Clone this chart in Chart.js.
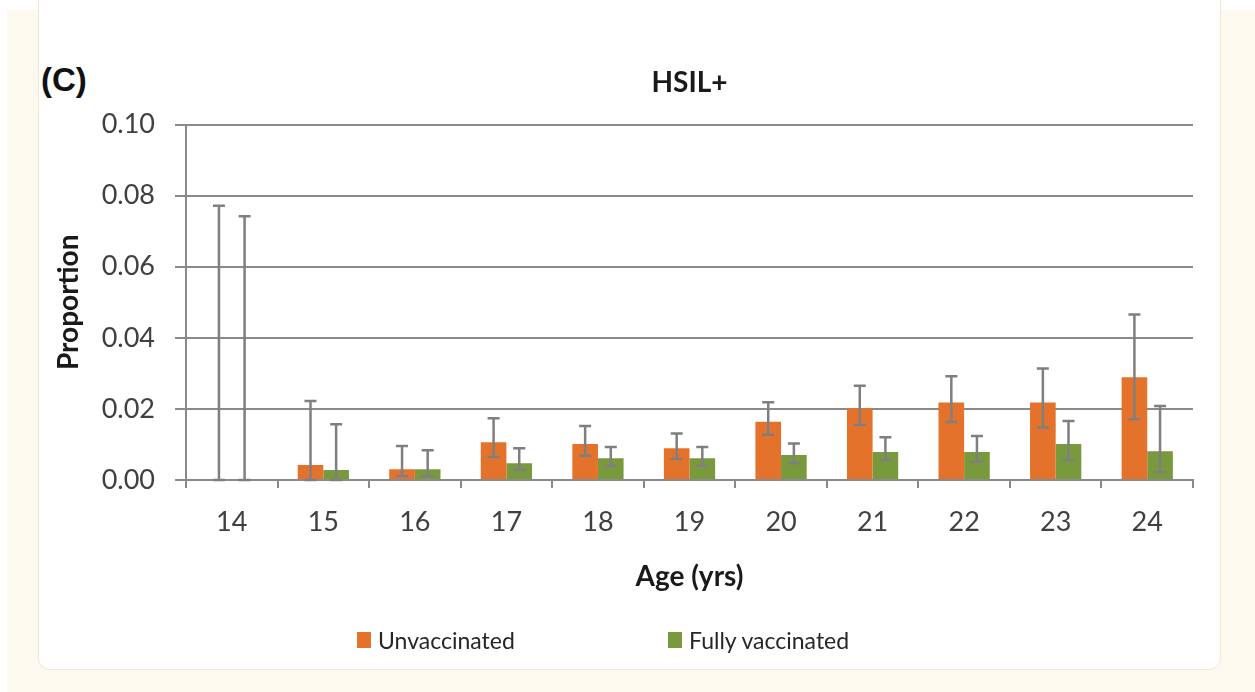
<!DOCTYPE html>
<html>
<head>
<meta charset="utf-8">
<script src="https://cdn.jsdelivr.net/npm/chart.js@4.4.1/dist/chart.umd.min.js"></script>
<style>
  html, body { margin: 0; padding: 0; background: #fff; }
  #page { position: relative; width: 1255px; height: 692px; overflow: hidden; }
  #cream { position: absolute; left: 7px; top: 10px; width: 1248px; height: 682px; background: #fdf9ee; }
  #card { position: absolute; left: 38px; top: -20px; width: 1181px; height: 688px; background: #fff;
          border: 1px solid #f3e6d6; border-radius: 12px; }
  #panel { position: absolute; left: 41px; top: 61px; font: bold 33px "Liberation Sans", Arial, sans-serif; color: #111; }
  #wrap { position: absolute; left: 0; top: 0; width: 1255px; height: 692px; }
  #legend { position: absolute; top: 625px; left: 0; width: 1255px; font: 23px Lato, sans-serif; color: #262626; }
  .item { position: absolute; top: 0; display: flex; align-items: center; height: 30px; }
  .box { width: 14px; height: 16px; margin-right: 7px; }
</style>
</head>
<body>
<div id="page">
  <div id="cream"></div>
  <div id="card"></div>
  <div id="panel">(C)</div>
  <div id="wrap"><canvas id="chart" width="1255" height="692"></canvas></div>
  <div id="legend"></div>
</div>
<script>
// data
const ages = ['14', '15', '16', '17', '18', '19', '20', '21', '22', '23', '24'];
const unvax   = [0, 0.0042, 0.0030, 0.0106, 0.0101, 0.0089, 0.0164, 0.0202, 0.0218, 0.0218, 0.0289];
const unvaxLo = [0, 0, 0.0011, 0.0065, 0.0068, 0.0059, 0.0127, 0.0155, 0.0163, 0.0148, 0.0171];
const unvaxHi = [0.0772, 0.0222, 0.0096, 0.0174, 0.0152, 0.0131, 0.0219, 0.0265, 0.0292, 0.0314, 0.0466];
const full    = [0, 0.0028, 0.0030, 0.0047, 0.0061, 0.0061, 0.0070, 0.0079, 0.0079, 0.0101, 0.0081];
const fullLo  = [0, 0, 0.0011, 0.0028, 0.0040, 0.0040, 0.0047, 0.0056, 0.0051, 0.0056, 0.0022];
const fullHi  = [0.0742, 0.0157, 0.0084, 0.0089, 0.0093, 0.0093, 0.0103, 0.0120, 0.0124, 0.0166, 0.0208];
const yTicks = [0, 0.02, 0.04, 0.06, 0.08, 0.10];

const axisGrey = '#8a8a8a';
const errGrey = '#7f7f7f';

// error bars drawn from the lo/hi arrays through the y scale
const errorBars = {
  id: 'errorBars',
  afterDatasetsDraw(chart) {
    const ctx = chart.ctx;
    const y = chart.scales.y;
    ctx.save();
    ctx.strokeStyle = errGrey;
    ctx.lineWidth = 2.5;
    chart.data.datasets.forEach((ds, i) => {
      const meta = chart.getDatasetMeta(i);
      meta.data.forEach((bar, j) => {
        const x = bar.x;
        const top = y.getPixelForValue(ds.errHi[j]);
        const bot = y.getPixelForValue(ds.errLo[j]);
        ctx.beginPath();
        ctx.moveTo(x, top); ctx.lineTo(x, bot);
        ctx.moveTo(x - 6, top); ctx.lineTo(x + 6, top);
        ctx.moveTo(x - 6, bot); ctx.lineTo(x + 6, bot);
        ctx.stroke();
      });
    });
    ctx.restore();
  }
};

const chart = new Chart(document.getElementById('chart'), {
  type: 'bar',
  data: {
    labels: ages,
    datasets: [
      { label: 'Unvaccinated', data: unvax, errLo: unvaxLo, errHi: unvaxHi, backgroundColor: '#e5722a' },
      { label: 'Fully vaccinated', data: full, errLo: fullLo, errHi: fullHi, backgroundColor: '#789a3d' }
    ]
  },
  options: {
    responsive: false,
    animation: false,
    categoryPercentage: 0.56,
    barPercentage: 1.0,
    layout: { padding: { left: 0, right: 62, top: 0, bottom: 98 } },
    plugins: {
      legend: { display: false },
      tooltip: { enabled: false },
      title: {
        display: true,
        text: 'HSIL+',
        fullSize: false,
        color: '#1a1a1a',
        font: { family: 'Lato', size: 28, weight: 'bold' },
        padding: { top: 66, bottom: 25 }
      }
    },
    scales: {
      x: {
        grid: { display: true, drawOnChartArea: false, drawTicks: true, tickLength: 8, color: axisGrey, lineWidth: 2 },
        border: { display: true, color: axisGrey, width: 2 },
        ticks: { color: '#404040', font: { family: 'Lato', size: 27 }, padding: 18 },
        title: {
          display: true, text: 'Age (yrs)', color: '#1a1a1a',
          font: { family: 'Lato', size: 28, weight: 'bold' },
          padding: { top: 4, bottom: 0 }
        }
      },
      y: {
        min: 0, max: 0.10,
        afterFit(scale) { scale.width = 186; },
        afterBuildTicks(scale) { scale.ticks = yTicks.map(v => ({ value: v })); },
        grid: { color: axisGrey, lineWidth: 2, drawTicks: true, tickLength: 11 },
        border: { display: true, color: axisGrey, width: 2 },
        ticks: { color: '#404040', font: { family: 'Lato', size: 27 }, padding: 20, callback: v => v.toFixed(2) },
        title: {
          display: true, text: 'Proportion', color: '#1a1a1a',
          font: { family: 'Lato', size: 28, weight: 'bold' },
          padding: { top: 52, bottom: 0 }
        }
      }
    }
  },
  plugins: [errorBars]
});

// html legend built from the chart's own legend items
const legendEl = document.getElementById('legend');
const items = Chart.defaults.plugins.legend.labels.generateLabels(chart);
const lefts = [357, 668];
items.forEach((it, i) => {
  const div = document.createElement('div');
  div.className = 'item';
  div.style.left = lefts[i] + 'px';
  div.innerHTML = '<span class="box" style="background:' + it.fillStyle + '"></span><span>' + it.text + '</span>';
  legendEl.appendChild(div);
});
</script>
</body>
</html>
